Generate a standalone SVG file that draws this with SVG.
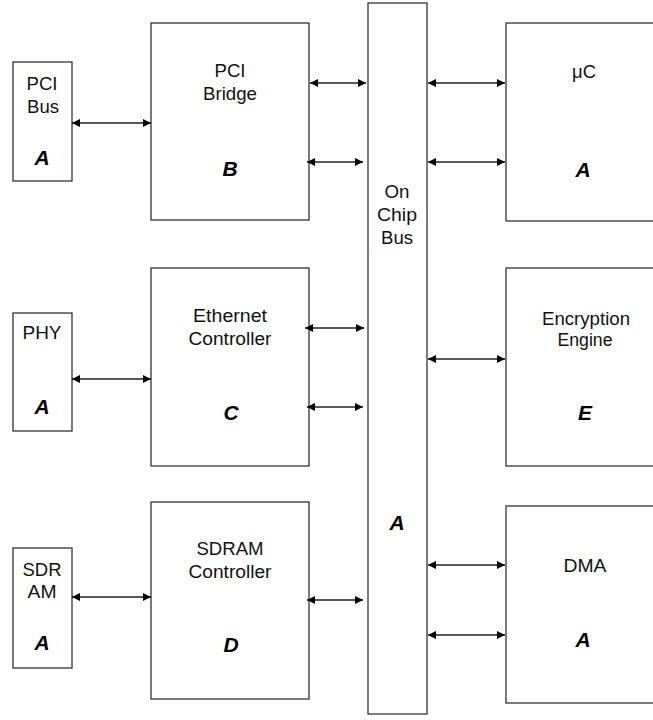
<svg xmlns="http://www.w3.org/2000/svg" width="653" height="720" viewBox="0 0 653 720">
<defs>
<style>
.box{fill:#fff;stroke:#333;stroke-width:1.3}
.lbl{font-family:"Liberation Sans",Arial,sans-serif;font-size:17.5px;fill:#111;text-anchor:middle}
.tag{font-family:"Liberation Sans",Arial,sans-serif;font-size:21px;font-weight:bold;font-style:italic;fill:#000;text-anchor:middle}
.con{stroke:#222;stroke-width:1.3;fill:none;marker-start:url(#ah);marker-end:url(#ah)}
</style>
<marker id="ah" viewBox="0 0 10 10" refX="10" refY="5" markerWidth="12" markerHeight="8" markerUnits="userSpaceOnUse" orient="auto-start-reverse">
<path d="M0,0 L10,5 L0,10 z" fill="#000"/>
</marker>
</defs>
<rect width="653" height="720" fill="#fff"/>
<g id="pci-bus">
<rect class="box" x="13" y="62" width="59" height="119"/>
<text class="lbl" x="42" y="90" textLength="31" lengthAdjust="spacingAndGlyphs">PCI</text>
<text class="lbl" x="43" y="113" textLength="32" lengthAdjust="spacingAndGlyphs">Bus</text>
<text class="tag" x="42" y="165">A</text>
</g>
<g id="pci-bridge">
<rect class="box" x="151" y="23" width="158" height="197"/>
<text class="lbl" x="230" y="77" textLength="31" lengthAdjust="spacingAndGlyphs">PCI</text>
<text class="lbl" x="230" y="100" textLength="54" lengthAdjust="spacingAndGlyphs">Bridge</text>
<text class="tag" x="230" y="176">B</text>
</g>
<g id="on-chip-bus">
<rect class="box" x="368" y="3" width="59" height="711"/>
<text class="lbl" x="397" y="198" textLength="25" lengthAdjust="spacingAndGlyphs">On</text>
<text class="lbl" x="397" y="221" textLength="40" lengthAdjust="spacingAndGlyphs">Chip</text>
<text class="lbl" x="397" y="244" textLength="32" lengthAdjust="spacingAndGlyphs">Bus</text>
<text class="tag" x="397" y="530">A</text>
</g>
<g id="uc">
<rect class="box" x="506" y="23" width="160" height="198"/>
<text class="lbl" x="584" y="78" textLength="24" lengthAdjust="spacingAndGlyphs">μC</text>
<text class="tag" x="583" y="177">A</text>
</g>
<g id="phy">
<rect class="box" x="13" y="313" width="59" height="118"/>
<text class="lbl" x="42" y="339" textLength="39" lengthAdjust="spacingAndGlyphs">PHY</text>
<text class="tag" x="42" y="414">A</text>
</g>
<g id="ethernet-controller">
<rect class="box" x="151" y="268" width="158" height="198"/>
<text class="lbl" x="230" y="322" textLength="74" lengthAdjust="spacingAndGlyphs">Ethernet</text>
<text class="lbl" x="230" y="345" textLength="83" lengthAdjust="spacingAndGlyphs">Controller</text>
<text class="tag" x="231" y="420">C</text>
</g>
<g id="encryption-engine">
<rect class="box" x="506" y="268" width="160" height="198"/>
<text class="lbl" x="586" y="325" textLength="88" lengthAdjust="spacingAndGlyphs">Encryption</text>
<text class="lbl" x="585" y="346" textLength="55" lengthAdjust="spacingAndGlyphs">Engine</text>
<text class="tag" x="585" y="420">E</text>
</g>
<g id="sdram">
<rect class="box" x="13" y="548" width="59" height="120"/>
<text class="lbl" x="42" y="576" textLength="39" lengthAdjust="spacingAndGlyphs">SDR</text>
<text class="lbl" x="42" y="598" textLength="29" lengthAdjust="spacingAndGlyphs">AM</text>
<text class="tag" x="42" y="650">A</text>
</g>
<g id="sdram-controller">
<rect class="box" x="151" y="502" width="158" height="197"/>
<text class="lbl" x="230" y="555" textLength="67" lengthAdjust="spacingAndGlyphs">SDRAM</text>
<text class="lbl" x="230" y="578" textLength="83" lengthAdjust="spacingAndGlyphs">Controller</text>
<text class="tag" x="231" y="652">D</text>
</g>
<g id="dma">
<rect class="box" x="506" y="506" width="160" height="197"/>
<text class="lbl" x="585" y="572" textLength="43" lengthAdjust="spacingAndGlyphs">DMA</text>
<text class="tag" x="583" y="647">A</text>
</g>
<g id="connectors">
<line class="con" x1="72" y1="123" x2="151" y2="123"/>
<line class="con" x1="310" y1="83" x2="366" y2="83"/>
<line class="con" x1="307" y1="162" x2="363" y2="162"/>
<line class="con" x1="428" y1="83" x2="505" y2="83"/>
<line class="con" x1="428" y1="162" x2="505" y2="162"/>
<line class="con" x1="72" y1="379" x2="151" y2="379"/>
<line class="con" x1="305" y1="328" x2="364" y2="328"/>
<line class="con" x1="307" y1="407" x2="363" y2="407"/>
<line class="con" x1="428" y1="359" x2="505" y2="359"/>
<line class="con" x1="72" y1="597" x2="151" y2="597"/>
<line class="con" x1="307" y1="600" x2="363" y2="600"/>
<line class="con" x1="428" y1="565" x2="505" y2="565"/>
<line class="con" x1="428" y1="635" x2="505" y2="635"/>
</g>
</svg>
